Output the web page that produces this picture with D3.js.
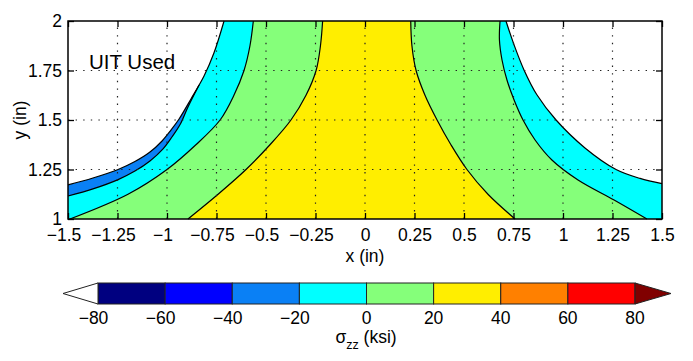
<!DOCTYPE html>
<html>
<head>
<meta charset="utf-8">
<script src="https://d3js.org/d3.v7.min.js"></script>
<style>
  body { margin: 0; background: #fff; }
  text { font-family: "Liberation Sans", Arial, Helvetica, sans-serif; fill: #000; }
  .grid line { stroke: #222; stroke-width: 1.2; stroke-dasharray: 1.4 6.2; }
  .cline { fill: none; stroke: #000; stroke-width: 1.2; }
</style>
</head>
<body>
<svg id="chart" width="693" height="361"></svg>
<script>
// contour lines, as [x, y] in inches
var curveA = [[-1.5, 1.172], [-1.374, 1.207], [-1.247, 1.25], [-1.162, 1.29], [-1.086, 1.338],
              [-1.025, 1.394], [-0.98, 1.449], [-0.939, 1.505], [-0.879, 1.606], [-0.813, 1.722],
              [-0.763, 1.838], [-0.712, 2]];
var curveB = [[-1.5, 1.116], [-1.374, 1.152], [-1.247, 1.199], [-1.162, 1.242], [-1.086, 1.293],
              [-1.02, 1.354], [-0.975, 1.414], [-0.934, 1.477], [-0.894, 1.566], [-0.838, 1.677]];
var curveC = [[-1.49, 1.0], [-1.197, 1.125], [-1.0, 1.25], [-0.854, 1.375], [-0.732, 1.5],
              [-0.662, 1.625], [-0.611, 1.75], [-0.581, 1.875], [-0.564, 2]];
var curveDl = [[-0.894, 1.0], [-0.742, 1.125], [-0.601, 1.25], [-0.48, 1.375], [-0.374, 1.5],
               [-0.298, 1.625], [-0.247, 1.75], [-0.225, 1.875], [-0.214, 2]];
var curveDr = [[0.231, 2], [0.237, 1.875], [0.258, 1.75], [0.303, 1.625], [0.364, 1.5],
               [0.434, 1.375], [0.515, 1.25], [0.621, 1.125], [0.758, 1.0]];
var curveE = [[0.682, 2], [0.679, 1.904], [0.692, 1.803], [0.717, 1.702], [0.753, 1.601],
              [0.798, 1.5], [0.859, 1.399], [0.944, 1.298], [1.076, 1.197], [1.258, 1.096], [1.424, 1.0]];
var curveF = [[0.712, 2], [0.753, 1.879], [0.803, 1.753], [0.869, 1.626], [0.965, 1.5],
              [1.111, 1.359], [1.268, 1.25], [1.389, 1.205], [1.5, 1.179]];

var xTicks = [-1.5, -1.25, -1, -0.75, -0.5, -0.25, 0, 0.25, 0.5, 0.75, 1, 1.25, 1.5];
var xTickLabels = ["\u22121.5", "\u22121.25", "\u22121", "\u22120.75", "\u22120.5", "\u22120.25",
                   "0", "0.25", "0.5", "0.75", "1", "1.25", "1.5"];
var yTicks = [1, 1.25, 1.5, 1.75, 2];
var yTickLabels = ["1", "1.25", "1.5", "1.75", "2"];

var levels = [-80, -60, -40, -20, 0, 20, 40, 60, 80];
var levelLabels = ["\u221280", "\u221260", "\u221240", "\u221220", "0", "20", "40", "60", "80"];
var bandColors = ["#000080", "#0000ff", "#0a80f5", "#00ffff", "#85ff7a", "#ffee00", "#ff8000", "#ff0000"];
var lowColor = "#ffffff", highColor = "#800000";

var svg = d3.select("#chart");
var x = d3.scaleLinear().domain([-1.5, 1.5]).range([68, 662]);
var y = d3.scaleLinear().domain([1, 2]).range([219, 21]);

var line = d3.line().x(function(d) { return x(d[0]); }).y(function(d) { return y(d[1]); })
             .curve(d3.curveCatmullRom.alpha(0.5));
function seg(pts) { return line(pts).replace(/^M/, "L"); }
function pt(p) { return "L" + x(p[0]) + "," + y(p[1]); }
function rev(a) { return a.slice().reverse(); }

var plot = svg.append("g");
// base band 0..20
plot.append("rect").attr("x", x(-1.5)).attr("y", y(2))
    .attr("width", x(1.5) - x(-1.5)).attr("height", y(1) - y(2)).attr("fill", bandColors[4]);
// 20..40
plot.append("path").attr("fill", bandColors[5])
    .attr("d", line(curveDl) + seg(curveDr) + "Z");
// -20..0 left
plot.append("path").attr("fill", bandColors[3])
    .attr("d", line(curveC) + seg(rev(curveA)) + pt([-1.5, 1]) + "Z");
// -40..-20 left
var aLow = curveA.filter(function(d) { return d[1] < 1.677; });
plot.append("path").attr("fill", bandColors[2])
    .attr("d", line(curveB) + seg(rev(aLow)) + "Z");
// -20..0 right
plot.append("path").attr("fill", bandColors[3])
    .attr("d", line(curveE) + pt([1.5, 1]) + seg(rev(curveF)) + "Z");
// below -80 (white)
plot.append("path").attr("fill", lowColor)
    .attr("d", line(curveA) + pt([-1.5, 2]) + "Z");
plot.append("path").attr("fill", lowColor)
    .attr("d", line(curveF) + pt([1.5, 2]) + "Z");

// contour lines
[curveB, curveC, curveDl, curveDr, curveE].forEach(function(c) {
  plot.append("path").attr("class", "cline").attr("d", line(c));
});
[curveA, curveF].forEach(function(c) {
  plot.append("path").attr("class", "cline").attr("stroke-width", 2.6).attr("d", line(c));
});

// grid
var grid = svg.append("g").attr("class", "grid");
grid.selectAll(".gx").data(xTicks.slice(1, -1)).enter().append("line")
    .attr("x1", function(d) { return x(d); }).attr("x2", function(d) { return x(d); })
    .attr("y1", y(1)).attr("y2", y(2));
grid.selectAll(".gy").data(yTicks.slice(1, -1)).enter().append("line")
    .attr("y1", function(d) { return y(d); }).attr("y2", function(d) { return y(d); })
    .attr("x1", x(-1.5)).attr("x2", x(1.5));

// axes with inward ticks
function styleAxis(g) {
  g.select(".domain").remove();
  g.selectAll(".tick line").attr("stroke", "#000").attr("stroke-width", 1.3);
}
svg.append("g").attr("transform", "translate(0," + y(1) + ")")
   .call(d3.axisBottom(x).tickValues(xTicks).tickSizeInner(-6).tickSizeOuter(0)
         .tickPadding(10).tickFormat(function(d, i) { return xTickLabels[i]; }))
   .call(styleAxis)
   .call(function(g) {
     g.selectAll(".tick text").attr("font-size", 17.5)
      .attr("font-family", "Liberation Sans, Arial, sans-serif").attr("fill", "#000")
      .attr("dx", function(d) { return d < 0 ? -4.5 : 0; });
   });
svg.append("g").attr("transform", "translate(0," + y(2) + ")")
   .call(d3.axisTop(x).tickValues(xTicks).tickSizeInner(-6).tickSizeOuter(0).tickFormat(""))
   .call(styleAxis);
svg.append("g").attr("transform", "translate(" + x(-1.5) + ",0)")
   .call(d3.axisLeft(y).tickValues(yTicks).tickSizeInner(-6).tickSizeOuter(0)
         .tickPadding(6).tickFormat(function(d, i) { return yTickLabels[i]; }))
   .call(styleAxis)
   .call(function(g) {
     g.selectAll(".tick text").attr("font-size", 17.5)
      .attr("font-family", "Liberation Sans, Arial, sans-serif").attr("fill", "#000");
   });
svg.append("g").attr("transform", "translate(" + x(1.5) + ",0)")
   .call(d3.axisRight(y).tickValues(yTicks).tickSizeInner(-6).tickSizeOuter(0).tickFormat(""))
   .call(styleAxis);

svg.append("rect").attr("x", x(-1.5)).attr("y", y(2))
   .attr("width", x(1.5) - x(-1.5)).attr("height", y(1) - y(2))
   .attr("fill", "none").attr("stroke", "#000").attr("stroke-width", 1.5);

// labels
svg.append("text").attr("x", 365).attr("y", 262).attr("text-anchor", "middle")
   .attr("font-size", 17.5).text("x (in)");
svg.append("text").attr("transform", "translate(26,120) rotate(-90)").attr("text-anchor", "middle")
   .attr("font-size", 17.5).text("y (in)");
svg.append("text").attr("x", 89).attr("y", 69).attr("font-size", 20.5).text("UIT Used");

// colorbar
var cb = d3.scaleLinear().domain([-80, 80]).range([98, 635]);
var cbTop = 283, cbBot = 304, cbMid = (cbTop + cbBot) / 2;
var cbar = svg.append("g");
cbar.selectAll("rect").data(bandColors).enter().append("rect")
    .attr("x", function(d, i) { return cb(levels[i]); })
    .attr("width", function(d, i) { return cb(levels[i + 1]) - cb(levels[i]); })
    .attr("y", cbTop).attr("height", cbBot - cbTop)
    .attr("fill", function(d) { return d; })
    .attr("stroke", "#222").attr("stroke-width", 1);
cbar.append("path").attr("fill", lowColor).attr("stroke", "#222").attr("stroke-width", 1)
    .attr("d", "M" + cb(-80) + "," + cbTop + "L" + (cb(-80) - 35) + "," + cbMid + "L" + cb(-80) + "," + cbBot + "Z");
cbar.append("path").attr("fill", highColor).attr("stroke", "#222").attr("stroke-width", 1)
    .attr("d", "M" + cb(80) + "," + cbTop + "L" + (cb(80) + 36) + "," + cbMid + "L" + cb(80) + "," + cbBot + "Z");
cbar.selectAll(".cbl").data(levels).enter().append("text")
    .attr("x", function(d) { return cb(d); }).attr("y", 324)
    .attr("dx", function(d) { return d < 0 ? -4.5 : 0; })
    .attr("text-anchor", "middle").attr("font-size", 17.5)
    .text(function(d, i) { return levelLabels[i]; });

var lab = svg.append("text").attr("x", 366).attr("y", 343).attr("text-anchor", "middle").attr("font-size", 17.5);
lab.append("tspan").text("\u03c3");
lab.append("tspan").attr("font-size", 12.5).attr("dy", 6).text("zz");
lab.append("tspan").attr("dy", -6).text(" (ksi)");
</script>
</body>
</html>
